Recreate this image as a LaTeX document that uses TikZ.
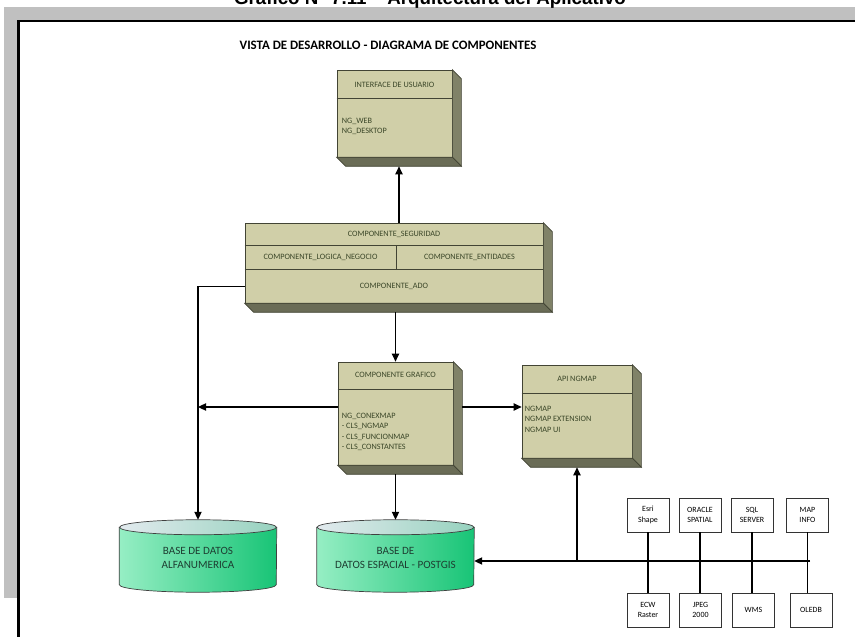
\documentclass[tikz,border=0pt]{standalone}
\usepackage{fontspec}
\setmainfont{Carlito}
\newfontfamily\headfont{Liberation Sans}
\usetikzlibrary{arrows.meta,positioning}
\definecolor{frame}{RGB}{192,192,192}
\definecolor{face}{RGB}{208,207,168}
\definecolor{sidec}{RGB}{128,130,104}
\definecolor{botc}{RGB}{106,108,86}
\definecolor{edge}{RGB}{66,68,52}
\definecolor{ink}{RGB}{58,70,40}
\definecolor{mintL}{RGB}{150,238,196}
\definecolor{mintD}{RGB}{24,196,118}
\definecolor{capL}{RGB}{226,234,238}
\definecolor{capD}{RGB}{150,210,190}
\definecolor{dbink}{RGB}{30,62,50}
\tikzset{
  comp/.style={rectangle,draw=edge,fill=face,line width=0.6pt,inner sep=0pt},
  sideface/.style={fill=sidec,draw=edge,line width=0.6pt},
  bottomface/.style={fill=botc,draw=edge,line width=0.6pt},
  rowline/.style={draw=edge,line width=0.6pt},
  lbl/.style={font=\fontsize{7}{9}\selectfont,text=ink,inner sep=0pt},
  lst/.style={lbl,align=left,anchor=north west},
  store/.style={rectangle,minimum width=4.71cm,minimum height=2.16cm,inner sep=0pt},
  cylbody/.style={draw=black!75,line width=0.6pt,left color=mintL,right color=mintD},
  cyltop/.style={draw=black!75,line width=0.6pt,left color=capL,right color=capD},
  dbtxt/.style={align=center,font=\fontsize{9.5}{11.5}\selectfont,text=dbink},
  src/.style={rectangle,draw=black!80,fill=white,line width=0.6pt,minimum width=1.26cm,
    minimum height=1.02cm,align=center,font=\fontsize{6.8}{9}\selectfont,inner sep=1pt},
  flow/.style={-{Triangle[length=2.4mm,width=2.2mm]},line width=0.9pt},
  link/.style={line width=0.9pt}}
\begin{document}
\begin{tikzpicture}[x=0.03cm,y=0.03cm]
  \useasboundingbox (0,0) rectangle (855,637);
  % marco
  \fill[frame] (4,39) rectangle (855,630);
  \fill[white] (18,0) rectangle (855,616);
  \draw[line width=1.8pt] (18.5,0) -- (18.5,616) -- (855,616);
  \node[anchor=base,font=\headfont\bfseries\fontsize{16}{18}\selectfont] (title) at (430,632.5)
    {Gráfico N° 7.11 – Arquitectura del Aplicativo};
  \node[font=\bfseries\fontsize{11}{13}\selectfont] (vista) at (388,592)
    {VISTA DE DESARROLLO - DIAGRAMA DE COMPONENTES};
  % componentes
  \node[comp,minimum width=3.45cm,minimum height=2.61cm] (iu) at (394.5,523.5) {};
  \node[comp,minimum width=8.94cm,minimum height=2.4cm] (mid) at (394,374) {};
  \node[comp,minimum width=3.45cm,minimum height=3.09cm] (graf) at (395.5,223.5) {};
  \node[comp,minimum width=3.3cm,minimum height=2.79cm] (api) at (577,225.5) {};
  \foreach \b in {iu,mid,graf,api}{
    \filldraw[sideface] (\b.north east) -- ++(9,-9) -- ([shift={(9,-9)}]\b.south east)
      -- (\b.south east) -- cycle;
    \filldraw[bottomface] (\b.south west) -- (\b.south east)
      -- ([shift={(9,-9)}]\b.south east) -- ([shift={(9,-9)}]\b.south west) -- cycle;}
  % interface
  \draw[rowline] ([shift={(0,-29)}]iu.north west) -- ([shift={(0,-29)}]iu.north east);
  \node[lbl] (iut) at ([shift={(0,-15)}]iu.north) {INTERFACE DE USUARIO};
  \node[lst] (iul) at ([shift={(5,-48)}]iu.north west) {NG\_WEB\\NG\_DESKTOP};
  % capas
  \draw[rowline] ([shift={(0,-23)}]mid.north west) -- ([shift={(0,-23)}]mid.north east);
  \draw[rowline] ([shift={(0,-47)}]mid.north west) -- ([shift={(0,-47)}]mid.north east);
  \draw[rowline] ([shift={(2,-23)}]mid.north) -- ([shift={(2,-47)}]mid.north);
  \node[lbl] (seg) at ([shift={(0,-11.5)}]mid.north) {COMPONENTE\_SEGURIDAD};
  \node[lbl] (neg) at ([shift={(-73.5,-35)}]mid.north) {COMPONENTE\_LOGICA\_NEGOCIO};
  \node[lbl] (ent) at ([shift={(75.5,-35)}]mid.north) {COMPONENTE\_ENTIDADES};
  \node[lbl] (ado) at ([shift={(0,16.5)}]mid.south) {COMPONENTE\_ADO};
  % grafico
  \draw[rowline] ([shift={(0,-28)}]graf.north west) -- ([shift={(0,-28)}]graf.north east);
  \node[lbl] (graft) at ([shift={(0,-13)}]graf.north) {COMPONENTE GRAFICO};
  \node[lst] (grafl) at ([shift={(4,-51)}]graf.north west)
    {NG\_CONEXMAP\\- CLS\_NGMAP\\- CLS\_FUNCIONMAP\\- CLS\_CONSTANTES};
  % api
  \draw[rowline] ([shift={(0,-29)}]api.north west) -- ([shift={(0,-29)}]api.north east);
  \node[lbl] (apit) at ([shift={(0,-14)}]api.north) {API NGMAP};
  \node[lst] (apil) at ([shift={(3,-41)}]api.north west) {NGMAP\\NGMAP EXTENSION\\NGMAP UI};
  % bases de datos
  \node[store] (alfa) at (198,81) {};
  \node[store] (pg) at (395.5,81) {};
  \foreach \c in {alfa,pg}{
    \path[cylbody] ([shift={(0,-7.5)}]\c.north west) -- ([shift={(0,7.5)}]\c.south west)
      arc[start angle=180,end angle=360,x radius=2.355cm,y radius=0.225cm]
      -- ([shift={(0,-7.5)}]\c.north east) -- cycle;
    \path[cyltop] ([shift={(0,-7.5)}]\c.north) ellipse[x radius=2.355cm,y radius=0.225cm];}
  \node[dbtxt] (alfat) at ([shift={(0,-2)}]alfa) {BASE DE DATOS\\ALFANUMERICA};
  \node[dbtxt] (pgt) at ([shift={(0,-2)}]pg) {BASE DE\\DATOS ESPACIAL - POSTGIS};
  % fuentes
  \node[src] (esri) at (648,122) {Esri\\Shape};
  \node[src] (ora) at (700,122) {ORACLE\\SPATIAL};
  \node[src] (sql) at (752,122) {SQL\\SERVER};
  \node[src] (mapi) at (807.5,122) {MAP\\INFO};
  \node[src] (ecw) at (648,27) {ECW\\Raster};
  \node[src] (jpg) at (700.5,27) {JPEG\\2000};
  \node[src] (wms) at (753.5,27) {WMS};
  \node[src] (ole) at (811,27) {OLEDB};
  \foreach \t/\u in {esri/ecw,ora/jpg,sql/wms,mapi/ole}
    \draw[link] (\t.south) -- (\t.south |- \u.north);
  \coordinate (busend) at (810,76);
  % conexiones
  \coordinate (iuin) at ([shift={(4.5,-9)}]iu.south);
  \coordinate (midbot) at ([shift={(0,-9)}]mid.south);
  \coordinate (grafw) at ([shift={(0,6.5)}]graf.west);
  \coordinate (grafe) at ([shift={(9,6.5)}]graf.east);
  \draw[flow] (iuin |- mid.north) -- (iuin);
  \draw[flow] (graf.north |- midbot) -- (graf.north);
  \draw[flow] (mid.west |- ado) -| (alfa.north);
  \draw[flow] (grafw) -- (grafw -| alfa.north);
  \draw[flow] (grafe) -- (grafe -| api.west);
  \draw[flow] ([shift={(0,-9)}]graf.south) -- (pg.north);
  \draw[flow] (busend) -- (pg.east |- busend);
  \draw[flow] (api.south |- busend) -- ([shift={(0,-9)}]api.south);
\end{tikzpicture}
\end{document}
